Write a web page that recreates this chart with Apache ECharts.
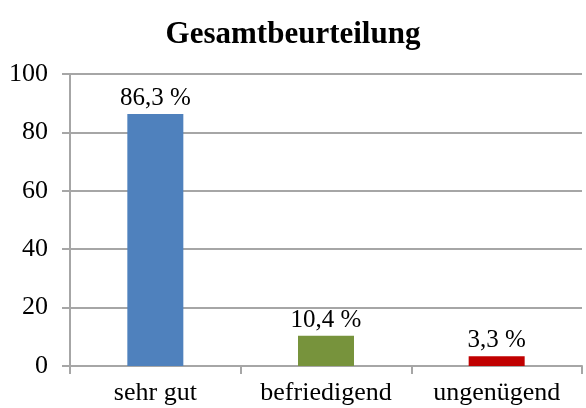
<!DOCTYPE html>
<html>
<head>
<meta charset="utf-8">
<script src="https://cdn.jsdelivr.net/npm/echarts@6/dist/echarts.min.js"></script>
<style>
  html, body { margin: 0; padding: 0; background: #fff; }
  #chart { width: 586px; height: 408px; }
</style>
</head>
<body>
<div id="chart"></div>
<script>
var kategorien = ["sehr gut", "befriedigend", "ungenügend"];
var werte = [86.3, 10.4, 3.3];
var farben = ["#4F81BD", "#77933C", "#C00000"];
var yTicks = [0, 20, 40, 60, 80, 100];

var myChart = echarts.init(document.getElementById("chart"));
var schrift = "Liberation Serif, Times New Roman, serif";
var grau = "#A6A6A6";

var option = {
  animation: false,
  title: {
    text: "Gesamtbeurteilung",
    left: "center",
    top: 14,
    textStyle: { fontFamily: schrift, fontSize: 31, fontWeight: "bold", color: "#000" }
  },
  grid: { left: 70, right: 4, top: 74, bottom: 42 },
  xAxis: {
    type: "category",
    data: kategorien,
    axisLine: { lineStyle: { color: grau, width: 2 } },
    axisTick: { show: true, interval: 0, length: 8, lineStyle: { color: grau, width: 2 } },
    axisLabel: { interval: 0, hideOverlap: false, fontFamily: schrift, fontSize: 26, color: "#000", margin: 14 }
  },
  yAxis: {
    type: "value",
    min: yTicks[0],
    max: yTicks[yTicks.length - 1],
    interval: 20,
    axisLine: { show: true, lineStyle: { color: grau, width: 2 } },
    axisTick: { show: true, length: 8, lineStyle: { color: grau, width: 2 } },
    splitLine: { lineStyle: { color: grau, width: 2 } },
    axisLabel: { fontFamily: schrift, fontSize: 26, color: "#000", margin: 22 }
  },
  series: [
    {
      type: "bar",
      barWidth: 56,
      data: werte.map(function (v, i) {
        return { value: v, itemStyle: { color: farben[i] } };
      }),
      label: {
        show: true,
        position: "top",
        distance: 3,
        fontFamily: schrift,
        fontSize: 25,
        color: "#000",
        formatter: function (p) {
          return String(p.value).replace(".", ",") + " %";
        }
      }
    }
  ]
};

myChart.setOption(option);
</script>
</body>
</html>
